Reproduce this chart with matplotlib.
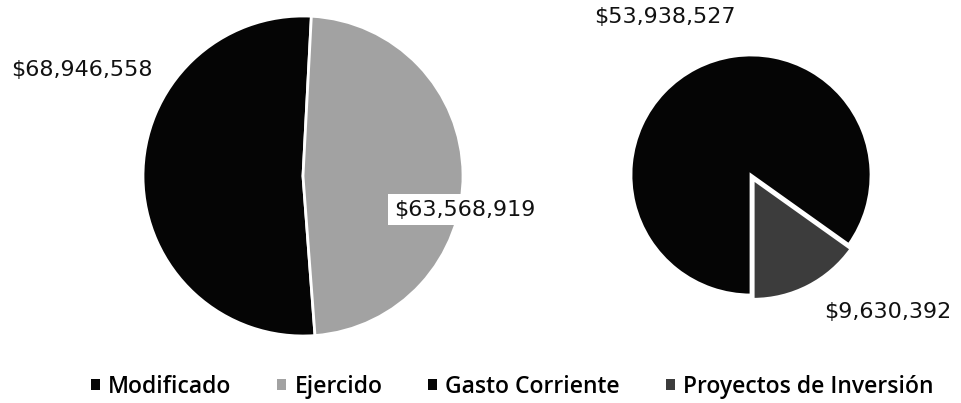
import matplotlib.pyplot as plt
from matplotlib.patches import Patch

# datos
presupuesto_labels = ["Modificado", "Ejercido"]
presupuesto_vals = [68946558, 63568919]
gasto_labels = ["Gasto Corriente", "Proyectos de Inversión"]
gasto_vals = [53938527, 9630392]

W, H = 961, 403
fig = plt.figure(figsize=(W / 100, H / 100), dpi=100)
fig.patch.set_facecolor("white")


def pie_axes(cx, cy, r):
    ax = fig.add_axes([(cx - r) / W, (H - cy - r) / H, 2 * r / W, 2 * r / H])
    ax.axis("off")
    return ax


def fix_limits(ax):
    ax.set_xlim(-1, 1)
    ax.set_ylim(-1, 1)
    ax.set_aspect("equal")


def money(v):
    return "${:,.0f}".format(v)


lbl_font = dict(family="DejaVu Sans", fontsize=16, color="#111111")

# pastel izquierdo
ax1 = pie_axes(303, 176, 160)
col1 = ["#050505", "#a2a2a2"]
ax1.pie(presupuesto_vals, colors=col1, startangle=87, counterclock=True,
        radius=1, wedgeprops=dict(edgecolor="white", linewidth=2))
fix_limits(ax1)
ax1.text(-1.38, 0.66, money(presupuesto_vals[0]), ha="center", va="center",
         clip_on=False, **lbl_font)
ax1.text(1.01, -0.21, money(presupuesto_vals[1]), ha="center", va="center",
         clip_on=False, bbox=dict(facecolor="white", edgecolor="none", pad=4),
         **lbl_font)

# pastel derecho
ax2 = pie_axes(751, 175, 120)
col2 = ["#050505", "#3c3c3c"]
ax2.pie(gasto_vals, colors=col2, startangle=-90, counterclock=False,
        radius=1, explode=[0, 0.04],
        wedgeprops=dict(edgecolor="white", linewidth=2))
fix_limits(ax2)
ax2.text(-0.72, 1.32, money(gasto_vals[0]), ha="center", va="center",
         clip_on=False, **lbl_font)
ax2.text(1.14, -1.14, money(gasto_vals[1]), ha="center", va="center",
         clip_on=False, **lbl_font)

# leyenda
handles = [Patch(facecolor=c) for c in col1 + col2]
names = presupuesto_labels + gasto_labels
fig.legend(handles, names, loc="center", bbox_to_anchor=(0.533, 0.04), ncol=4,
           frameon=False, handlelength=0.4, handleheight=0.4, handletextpad=0.35,
           columnspacing=2.0, borderpad=0,
           prop=dict(family="Open Sans", size=16.5, weight="semibold"))

fig.savefig("out.png", dpi=100)
